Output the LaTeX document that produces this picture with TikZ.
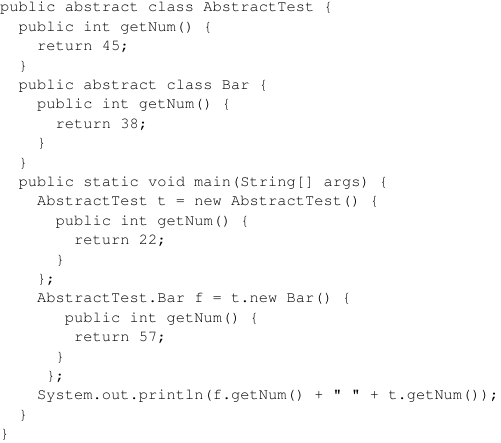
\documentclass[tikz,border=0pt]{standalone}
\usepackage[T1]{fontenc}
\usepackage{courier}
\begin{document}
\begin{tikzpicture}[x=1pt,y=1pt,
  codeline/.style={anchor=base west,inner sep=0pt,font=\ttfamily\fontsize{15.4}{19}\selectfont}]
  \def\cw{9.25}\def\lh{19.4}\def\ytop{12}
  \useasboundingbox (0,0) rectangle (501,-443);
  % line number / column / text
  \foreach \i/\c/\t in {1/0/{public abstract class AbstractTest \{},
      2/2/{public int getNum() \{},
      3/4/{return 45;},
      4/2/{\}},
      5/2/{public abstract class Bar \{},
      6/4/{public int getNum() \{},
      7/6/{return 38;},
      8/4/{\}},
      9/2/{\}},
      10/2/{public static void main(String[] args) \{},
      11/4/{AbstractTest t = new AbstractTest() \{},
      12/6/{public int getNum() \{},
      13/8/{return 22;},
      14/6/{\}},
      15/4/{\};},
      16/4/{AbstractTest.Bar f = t.new Bar() \{},
      17/7/{public int getNum() \{},
      18/8/{return 57;},
      19/6/{\}},
      20/5/{\};},
      21/4/{System.out.println(f.getNum() + \textquotedbl\ \textquotedbl\ + t.getNum());},
      22/2/{\}},
      23/0/{\}}}
    \node[codeline] (l\i) at ({\c*\cw},{-\ytop-(\i-1)*\lh}) {\t};
\end{tikzpicture}
\end{document}
